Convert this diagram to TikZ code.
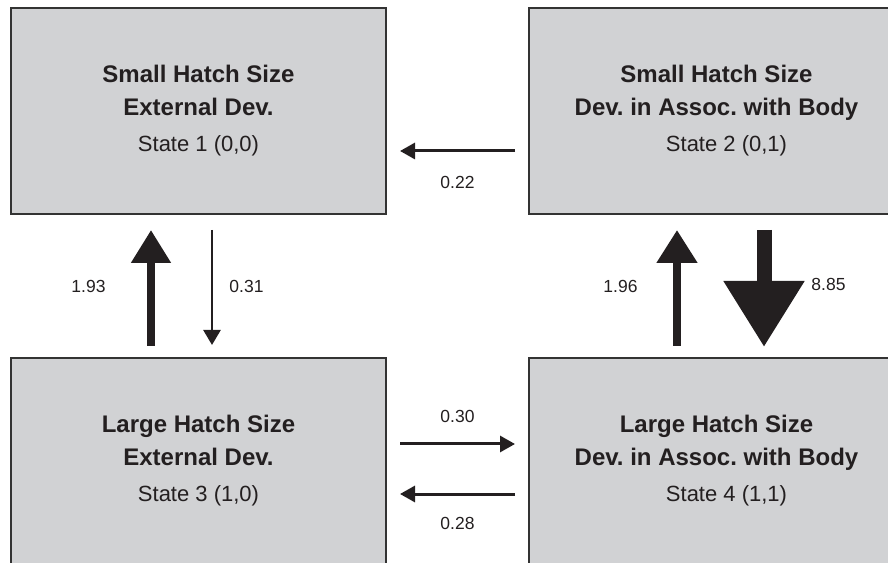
\documentclass[tikz,border=0pt]{standalone}
\usepackage{fontspec}
\setmainfont{Liberation Sans}
\usetikzlibrary{arrows.meta,positioning}
\definecolor{boxfill}{HTML}{D1D2D4}
\definecolor{boxline}{HTML}{333333}
\definecolor{ink}{HTML}{231F20}
\frenchspacing

\begin{document}
\begin{tikzpicture}[x=1pt, y=1pt, node distance=142pt and 141pt,
  state/.style={rectangle, draw=boxline, fill=boxfill, line width=2pt, minimum width=375pt, minimum height=206pt, inner sep=0pt, align=center, text=ink, font=\bfseries\fontsize{24}{33}\selectfont},
  flow/.style n args={3}{draw=ink, line width=#1, -{Triangle[width=#2, length=#3]}},
  rate/.style={text=ink, font=\fontsize{17.5}{20}\selectfont}]

\useasboundingbox (0,0) rectangle (888,562);

%Nodes
\node[state] (s1) at (198.5,451) {Small Hatch Size\\External Dev.\\[3pt]\normalfont\fontsize{22}{26}\selectfont State 1 (0,0)};
\node[state] (s2) [right=of s1] {Small Hatch Size\\Dev. in Assoc. with Body\\[3pt]\normalfont\fontsize{22}{26}\selectfont\hspace*{20pt}State 2 (0,1)};
\node[state] (s3) [below=of s1] {Large Hatch Size\\External Dev.\\[3pt]\normalfont\fontsize{22}{26}\selectfont State 3 (1,0)};
\node[state] (s4) [below=of s2] {Large Hatch Size\\Dev. in Assoc. with Body\\[3pt]\normalfont\fontsize{22}{26}\selectfont\hspace*{20pt}State 4 (1,1)};

%Horizontal transitions
\draw[flow={3pt}{16pt}{15pt}, shorten <=13pt, shorten >=13pt] ([yshift=-40pt]s2.west) -- ([yshift=-40pt]s1.east) node[rate, midway, yshift=-31pt] (r21) {0.22};
\draw[flow={3pt}{16pt}{15pt}, shorten <=13pt, shorten >=13pt] ([yshift=17pt]s3.east) -- ([yshift=17pt]s4.west) node[rate, midway, yshift=28pt] (r34) {0.30};
\draw[flow={3pt}{16pt}{15pt}, shorten <=13pt, shorten >=13pt] ([yshift=-33pt]s4.west) -- ([yshift=-33pt]s3.east) node[rate, midway, yshift=-29pt] (r43) {0.28};

%Vertical transitions
\draw[flow={8pt}{38pt}{33pt}, shorten <=11pt, shorten >=15pt] ([xshift=-47.5pt]s3.north) -- ([xshift=-47.5pt]s1.south) node[rate, midway, xshift=-62.5pt] (r31) {1.93};
\draw[flow={2.5pt}{17pt}{15pt}, shorten <=15pt, shorten >=12pt] ([xshift=13.5pt]s1.south) -- ([xshift=13.5pt]s3.north) node[rate, midway, xshift=34.5pt] (r13) {0.31};
\draw[flow={8pt}{39pt}{33pt}, shorten <=11pt, shorten >=15pt] ([xshift=-39.5pt]s4.north) -- ([xshift=-39.5pt]s2.south) node[rate, midway, xshift=-56.5pt] (r42) {1.96};
\draw[flow={15pt}{77pt}{66pt}, shorten <=15pt, shorten >=10pt] ([xshift=47.5pt]s2.south) -- ([xshift=47.5pt]s4.north) node[rate, midway, xshift=64.5pt, yshift=2pt] (r24) {8.85};

\end{tikzpicture}
\end{document}
